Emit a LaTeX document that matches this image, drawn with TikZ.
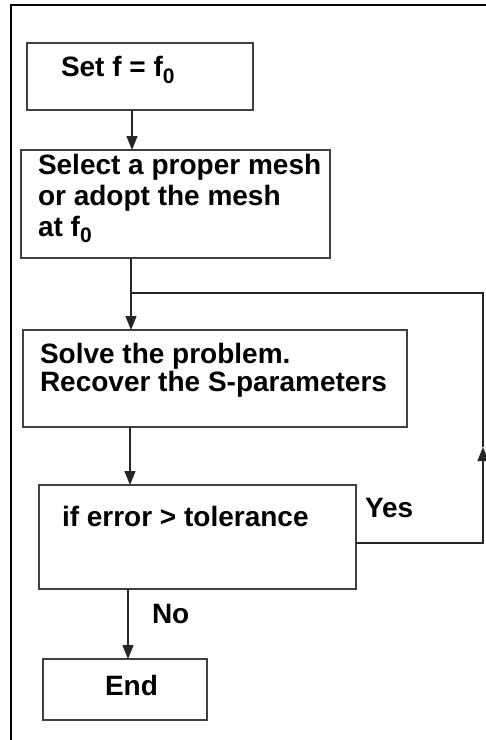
\documentclass[tikz,border=0pt]{standalone}
\usepackage{fontspec}
\setmainfont{Liberation Sans}
\usetikzlibrary{arrows.meta}
\newcommand{\mysub}[1]{\raisebox{-6.5pt}{\fontsize{21}{21}\selectfont #1}}
\begin{document}
\begin{tikzpicture}[x=1pt,y=-1pt,
  box/.style={draw=black!75, line width=1.3pt, inner sep=0pt, outer sep=0pt, anchor=north west},
  lbl/.style={anchor=base west, inner sep=0pt, outer sep=0pt, font=\bfseries\fontsize{28}{29}\selectfont},
  conn/.style={draw=black!85, line width=1.2pt, -{Triangle[length=14pt,width=11pt]}},
  plain/.style={draw=black!85, line width=1.2pt},
  frame/.style={draw=black, line width=2.2pt}]
\useasboundingbox (0,0) rectangle (486,740);
% outer frame
\draw[frame] (11,740) -- (11,5) -- (486,5);
% boxes
\node[box, minimum width=226pt, minimum height=67pt] (b1) at (27,43) {};
\node[box, minimum width=309pt, minimum height=108pt] (b2) at (21,150) {};
\node[box, minimum width=384pt, minimum height=97pt] (b3) at (23,330) {};
\node[box, minimum width=317pt, minimum height=104pt] (b4) at (39,485) {};
\node[box, minimum width=164pt, minimum height=61pt] (b5) at (43,659) {};
% texts
\node[lbl] (t1) at (61,76.7) {Set f = f\mysub{0}};
\node[lbl] (t2a) at (38,174) {Select a proper mesh};
\node[lbl] (t2b) at (38,205) {or adopt the mesh};
\node[lbl] (t2c) at (38,236) {at f\mysub{0}};
\node[lbl] (t3a) at (40,363) {Solve the problem.};
\node[lbl] (t3b) at (40,391) {Recover the S-parameters};
\node[lbl] (t4) at (62,526) {if error > tolerance};
\node[lbl] (yes) at (365,517) {Yes};
\node[lbl] (no) at (152,623) {No};
\node[lbl] (t5) at (105,695) {End};
% connector coordinates
\coordinate (c1) at (132,0);
\coordinate (c2) at (131,0);
\coordinate (c3) at (130,0);
\coordinate (c4) at (128,0);
\coordinate (j) at (131,293);
\coordinate (yb) at (483,543);
\coordinate (ym) at (483,447);
\coordinate (yt) at (483,293);
% connectors
\draw[conn] (b1.south -| c1) -- (b2.north -| c1);
\draw[conn] (b2.south -| c2) -- (b3.north -| c2);
\draw[conn] (b3.south -| c3) -- (b4.north -| c3);
\draw[conn] (b4.south -| c4) -- (b5.north -| c4);
\draw[conn] (b4.east |- yb) -- (yb) -- (ym);
\draw[plain] (ym) -- (yt) -- (j);
\end{tikzpicture}
\end{document}
